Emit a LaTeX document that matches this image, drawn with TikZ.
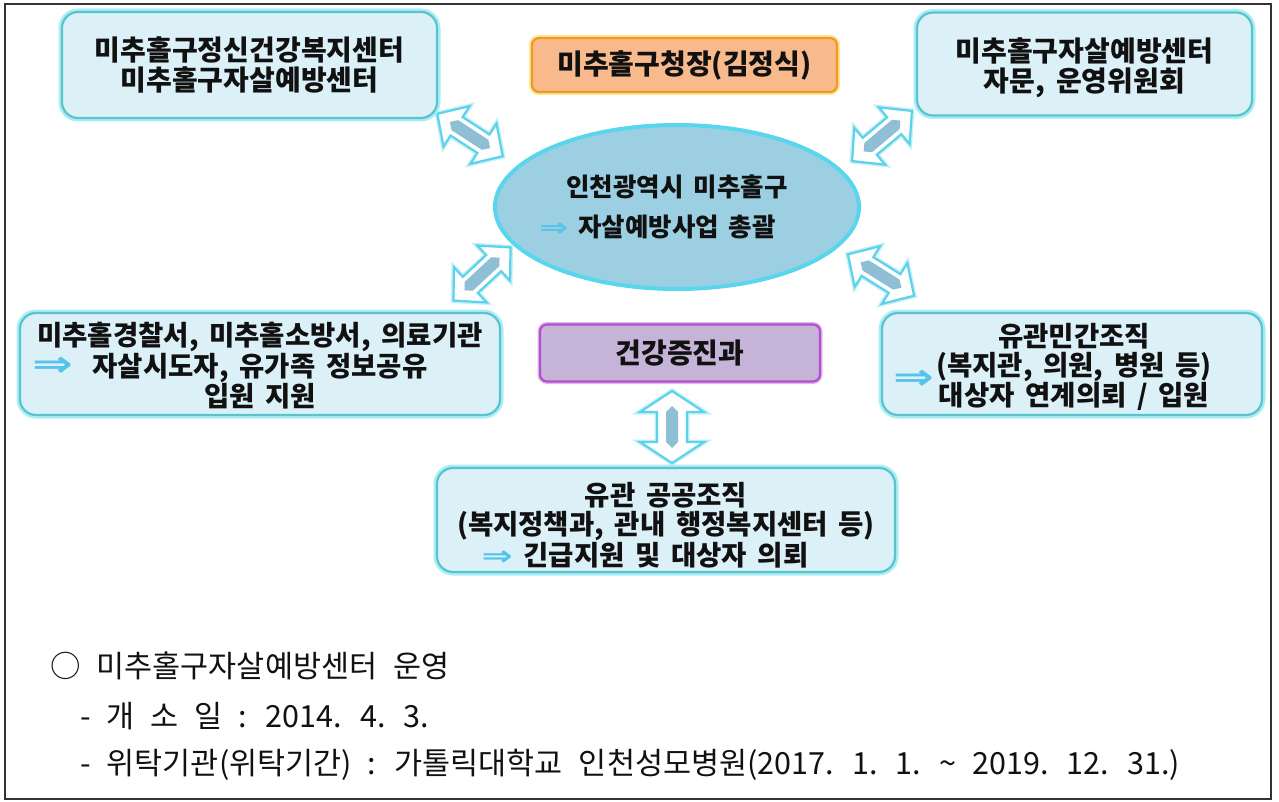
\documentclass[tikz,border=0pt]{standalone}
\usepackage{fontspec}
\usepackage{graphicx}
\newfontfamily\kr{Noto Sans CJK KR}[WordSpace=2.0]
\newfontfamily\krb{Noto Sans CJK KR}[WordSpace=1.7]
\newfontfamily\dv{DejaVu Sans}
\usetikzlibrary{shapes.geometric}
\definecolor{framec}{HTML}{333333}
\definecolor{boxfill}{HTML}{DCF0F8}
\definecolor{boxline}{HTML}{5BC3CC}
\definecolor{boxglow}{HTML}{A9EEF7}
\definecolor{orfill}{HTML}{F8B98C}
\definecolor{orline}{HTML}{F29A1F}
\definecolor{orglow}{HTML}{FDE59A}
\definecolor{pufill}{HTML}{C5B4D8}
\definecolor{puline}{HTML}{B24FD0}
\definecolor{elfill}{HTML}{9DCFE2}
\definecolor{elline}{HTML}{5AD6EC}
\definecolor{arrline}{HTML}{5CD3EA}
\definecolor{arrbar}{HTML}{8FBFD5}
\definecolor{arrowc}{HTML}{55C3EA}
\definecolor{textc}{HTML}{111111}
\newcommand\bxf{\krb\bfseries\fontsize{28}{30}\selectfont}
\newcommand\bxg{\krb\bfseries\fontsize{27.5}{29}\selectfont}
\newcommand\notef{\kr\fontsize{30.5}{34}\selectfont\spaceskip=16pt plus 2pt minus 1pt\relax}
\newcommand\arrsym{{\dv\bfseries\color{arrowc}\scalebox{1.35}[1.0]{⇒}}}
\newcommand\blockarrow[7]{%
  \begin{scope}[shift={(#1,#2)},rotate=#3]
    \draw[arrout] (-#4,0) -- (-#5,#6) -- (-#5,#7) -- (#5,#7) -- (#5,#6) -- (#4,0)
      -- (#5,-#6) -- (#5,-#7) -- (-#5,-#7) -- (-#5,-#6) -- cycle;
    \fill[arrbar] (-#4+15,0) -- (-#4+21,6) -- (#4-21,6) -- (#4-15,0)
      -- (#4-21,-6) -- (-#4+21,-6) -- cycle;
  \end{scope}}
\tikzset{
  arrout/.style={draw=arrline, line width=2.2, fill=white, line join=miter,
    preaction={draw=arrline!35, line width=5}},
  cbox/.style={draw=boxline, line width=2.2, fill=boxfill, rounded corners=16,
    preaction={draw=boxglow, line width=7}, align=center, text=textc,
    font=\bxf, inner sep=0},
  obox/.style={draw=orline, line width=2.2, fill=orfill, rounded corners=7,
    preaction={draw=orglow, line width=6}, align=center, text=textc,
    font=\bxf, inner sep=0},
  pbox/.style={draw=puline, line width=2.2, fill=pufill, rounded corners=7,
    preaction={draw=puline!40, line width=5}, align=center, text=textc,
    font=\bxf, inner sep=0},
  ebox/.style={ellipse, draw=elline, line width=4, fill=elfill, align=center,
    text=textc, font=\krb\bfseries\fontsize{25.5}{40}\selectfont, inner sep=0},
  arrtxt/.style={inner sep=0, font=\fontsize{36}{36}\selectfont},
  lbl/.style={inner sep=0, align=center, text=textc, font=\bxf},
  note/.style={anchor=west, inner sep=0, text=textc, font=\notef}
}
\begin{document}
\begin{tikzpicture}[x=1pt,y=-1pt]
\useasboundingbox (0,0) rectangle (1279,802);
\fill[white] (0,0) rectangle (1279,802);
\draw[framec, line width=2.5] (5,4) rectangle (1271,799);

% block double arrows
\blockarrow{470}{135}{-33}{39}{16}{24}{11}
\blockarrow{882}{136}{40}{39}{16}{24}{11}
\blockarrow{482}{274}{43}{39}{16}{24}{11}
\blockarrow{881}{275}{-32}{39}{16}{24}{11}
\blockarrow{672}{427}{90}{36}{15}{32}{15}

% boxes
\node[cbox, minimum width=375, minimum height=106] (tl) at (249.5,65)
  {미추홀구정신건강복지센터\\미추홀구자살예방센터};
\node[cbox, minimum width=335, minimum height=103] (tr) at (1084.5,64) {};
\node[lbl] (trtext) at (1084.5,68) {미추홀구자살예방센터\\자문, 운영위원회};
\node[obox, minimum width=305, minimum height=54] (chief) at (684.5,65)
  {미추홀구청장(김정식)};
\node[ebox, minimum width=364, minimum height=164] (hub) at (677,207)
  {인천광역시 미추홀구\\\llap{\arrsym\ }자살예방사업 총괄};
\node[cbox, font=\bxg, minimum width=480, minimum height=102] (lm) at (260,364) {};
\node[lbl, font=\bxg] (lmtext) at (260,366)
  {미추홀경찰서, 미추홀소방서, 의료기관\\자살시도자, 유가족 정보공유\\입원 지원};
\node[arrtxt] (lmarr) at (53,367) {\arrsym};
\node[pbox, minimum width=280, minimum height=57] (dept) at (680,353)
  {건강증진과};
\node[cbox, font=\bxg, minimum width=380, minimum height=102] (rm) at (1072,364) {};
\node[lbl, font=\bxg] (rmtext) at (1074,367)
  {유관민간조직\\(복지관, 의원, 병원 등)\\대상자 연계의뢰 / 입원};
\node[arrtxt] (rmarr) at (914,380) {\arrsym};
\node[cbox, font=\bxg, minimum width=458, minimum height=104] (bot) at (666,520) {};
\node[lbl, font=\bxg] (bottext) at (666,525)
  {유관 공공조직\\(복지정책과, 관내 행정복지센터 등)\\\llap{\arrsym\ }긴급지원 및 대상자 의뢰};

% notes
\node[note] (n1) at (50,666) {○ 미추홀구자살예방센터 운영};
\node[note] (n2) at (80,716) {- 개 소 일 : 2014. 4. 3.};
\node[note] (n3) at (80,765) {- 위탁기관(위탁기간) : 가톨릭대학교 인천성모병원(2017. 1. 1. \textasciitilde{} 2019. 12. 31.)};
\end{tikzpicture}
\end{document}
